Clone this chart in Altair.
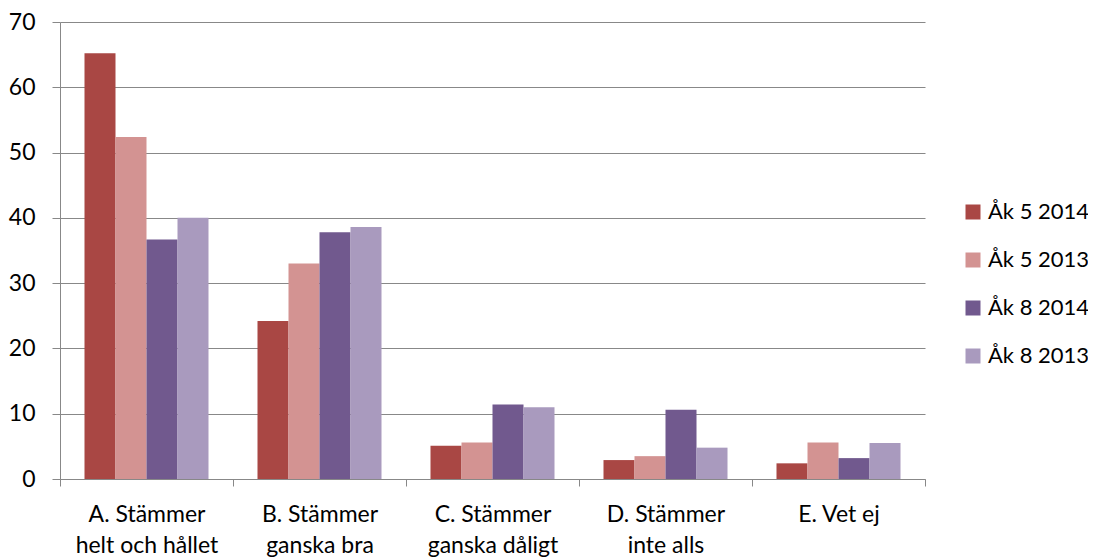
import altair as alt
import pandas as pd

categories = ["A. Stämmer|helt och hållet", "B. Stämmer|ganska bra", "C. Stämmer|ganska dåligt",
              "D. Stämmer|inte alls", "E. Vet ej"]
series = ["Åk 5 2014", "Åk 5 2013", "Åk 8 2014", "Åk 8 2013"]
colors = ["#A94744", "#D39392", "#71598E", "#A99ABE"]
ak5_2014 = [65.2, 24.2, 5.1, 2.9, 2.4]
ak5_2013 = [52.4, 33.0, 5.6, 3.5, 5.6]
ak8_2014 = [36.7, 37.8, 11.4, 10.6, 3.2]
ak8_2013 = [40.0, 38.6, 11.0, 4.8, 5.5]

rows = []
for s, vals in zip(series, [ak5_2014, ak5_2013, ak8_2014, ak8_2013]):
    for c, v in zip(categories, vals):
        rows.append({"kategori": c, "serie": s, "varde": v})
df = pd.DataFrame(rows)

FONT = "Lato"
FS = 23

chart = alt.Chart(df).mark_bar().encode(
    x=alt.X("kategori:N", sort=categories,
            scale=alt.Scale(paddingInner=0, paddingOuter=0),
            axis=alt.Axis(title=None, labelAngle=0,
                          labelExpr="isValid(datum.value) ? split(datum.value, '|') : ''",
                          labelLineHeight=31, labelFont=FONT, labelFontSize=FS,
                          labelColor="black", labelPadding=17, tickBand="extent",
                          tickSize=7, tickColor="#888888", domainColor="#888888",
                          labelBaseline="top")),
    xOffset=alt.XOffset("serie:N", sort=series,
                        scale=alt.Scale(paddingOuter=0.79, paddingInner=0)),
    y=alt.Y("varde:Q", scale=alt.Scale(domain=[0, 70]),
            axis=alt.Axis(title=None, values=[0, 10, 20, 30, 40, 50, 60, 70],
                          labelFont=FONT, labelFontSize=FS, labelColor="black",
                          labelPadding=17, tickSize=8, tickColor="#888888",
                          domainColor="#888888", gridColor="#888888", gridWidth=1.2)),
    color=alt.Color("serie:N", sort=series,
                    scale=alt.Scale(domain=series, range=colors),
                    legend=alt.Legend(title=None, orient="none", legendX=902, legendY=179,
                                      symbolType="square", symbolSize=225,
                                      symbolStrokeWidth=0, labelFont=FONT,
                                      labelFontSize=22, labelColor="black",
                                      rowPadding=26, labelOffset=4, padding=0)),
).properties(
    width=865, height=457,
    autosize=alt.AutoSizeParams(type="none"),
    padding={"left": 52, "top": 14, "right": 163, "bottom": 79},
).configure_view(stroke=None)

chart.save("out.html", embed_options={"renderer": "svg", "actions": False})
